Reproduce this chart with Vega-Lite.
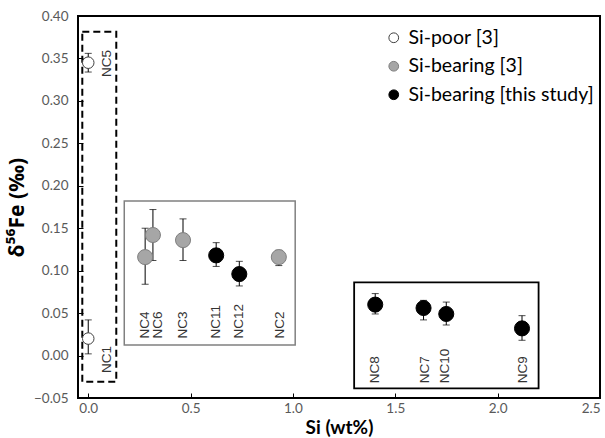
{
  "$schema": "https://vega.github.io/schema/vega-lite/v6.json",
  "width": 522,
  "height": 382,
  "autosize": "none",
  "padding": {"left": 78, "top": 16, "right": 5, "bottom": 40},
  "background": "white",
  "datasets": {
    "pts": [
      {"id": "NC5", "grp": "Si-poor [3]", "si": 0.0, "d": 0.345, "lo": 0.334, "hi": 0.356, "lx": 0.093, "ly": 0.328},
      {"id": "NC1", "grp": "Si-poor [3]", "si": 0.0, "d": 0.020, "lo": 0.002, "hi": 0.042, "lx": 0.093, "ly": -0.0205},
      {"id": "NC4", "grp": "Si-bearing [3]", "si": 0.278, "d": 0.116, "lo": 0.084, "hi": 0.150, "lx": 0.278, "ly": 0.020},
      {"id": "NC6", "grp": "Si-bearing [3]", "si": 0.316, "d": 0.142, "lo": 0.112, "hi": 0.172, "lx": 0.343, "ly": 0.020},
      {"id": "NC3", "grp": "Si-bearing [3]", "si": 0.463, "d": 0.136, "lo": 0.112, "hi": 0.161, "lx": 0.463, "ly": 0.020},
      {"id": "NC2", "grp": "Si-bearing [3]", "si": 0.931, "d": 0.116, "lo": 0.106, "hi": 0.124, "lx": 0.936, "ly": 0.020},
      {"id": "NC11", "grp": "Si-bearing [this study]", "si": 0.625, "d": 0.118, "lo": 0.105, "hi": 0.133, "lx": 0.625, "ly": 0.020},
      {"id": "NC12", "grp": "Si-bearing [this study]", "si": 0.738, "d": 0.096, "lo": 0.082, "hi": 0.111, "lx": 0.738, "ly": 0.020},
      {"id": "NC8", "grp": "Si-bearing [this study]", "si": 1.402, "d": 0.060, "lo": 0.049, "hi": 0.073, "lx": 1.402, "ly": -0.0327},
      {"id": "NC7", "grp": "Si-bearing [this study]", "si": 1.638, "d": 0.056, "lo": 0.042, "hi": 0.065, "lx": 1.643, "ly": -0.0327},
      {"id": "NC10", "grp": "Si-bearing [this study]", "si": 1.749, "d": 0.049, "lo": 0.036, "hi": 0.063, "lx": 1.744, "ly": -0.0327},
      {"id": "NC9", "grp": "Si-bearing [this study]", "si": 2.119, "d": 0.032, "lo": 0.018, "hi": 0.047, "lx": 2.125, "ly": -0.0327}
    ],
    "boxes": [
      {"box": "poor", "x1": -0.029, "x2": 0.137, "y1": -0.0308, "y2": 0.3815},
      {"box": "lit", "x1": 0.176, "x2": 1.011, "y1": 0.0124, "y2": 0.182},
      {"box": "this", "x1": 1.299, "x2": 2.2, "y1": -0.0386, "y2": 0.0863}
    ]
  },
  "config": {
    "view": {"stroke": "black", "strokeWidth": 2},
    "font": "Lato"
  },
  "layer": [
    {
      "data": {"name": "boxes"},
      "transform": [{"filter": "datum.box === 'poor'"}],
      "mark": {"type": "rect", "fill": "transparent", "stroke": "black", "strokeWidth": 2, "strokeDash": [7, 4]},
      "encoding": {
        "x": {"field": "x1", "type": "quantitative", "title": "Si (wt%)", "scale": {"domain": [-0.05, 2.5], "nice": false, "zero": false}},
        "x2": {"field": "x2"},
        "y": {"field": "y1", "type": "quantitative", "title": "δ⁵⁶Fe (‰)", "scale": {"domain": [-0.05, 0.4], "nice": false, "zero": false}},
        "y2": {"field": "y2"}
      }
    },
    {
      "data": {"name": "boxes"},
      "transform": [{"filter": "datum.box === 'lit'"}],
      "mark": {"type": "rect", "fill": "transparent", "stroke": "#808080", "strokeWidth": 1.5},
      "encoding": {
        "x": {"field": "x1", "type": "quantitative", "title": "Si (wt%)"},
        "x2": {"field": "x2"},
        "y": {"field": "y1", "type": "quantitative", "title": "δ⁵⁶Fe (‰)"},
        "y2": {"field": "y2"}
      }
    },
    {
      "data": {"name": "boxes"},
      "transform": [{"filter": "datum.box === 'this'"}],
      "mark": {"type": "rect", "fill": "transparent", "stroke": "black", "strokeWidth": 1.8},
      "encoding": {
        "x": {"field": "x1", "type": "quantitative", "title": "Si (wt%)"},
        "x2": {"field": "x2"},
        "y": {"field": "y1", "type": "quantitative", "title": "δ⁵⁶Fe (‰)"},
        "y2": {"field": "y2"}
      }
    },
    {
      "data": {"name": "pts"},
      "mark": {"type": "errorbar", "ticks": true, "size": 7, "thickness": 1, "color": "black"},
      "encoding": {
        "x": {"field": "si", "type": "quantitative", "title": "Si (wt%)"},
        "y": {"field": "lo", "type": "quantitative", "title": "δ⁵⁶Fe (‰)"},
        "y2": {"field": "hi"}
      }
    },
    {
      "data": {"name": "pts"},
      "mark": {"type": "circle", "opacity": 1, "strokeWidth": 1},
      "encoding": {
        "x": {
          "field": "si", "type": "quantitative", "title": "Si (wt%)",
          "axis": {
            "values": [0, 0.5, 1, 1.5, 2, 2.5], "format": ".1f", "grid": false, "domain": false,
            "tickSize": -5, "tickColor": "black", "labelFlush": true, "labelPadding": 8,
            "labelFontSize": 13.5, "labelColor": "#595959", "labelFont": "Lato",
            "titleFontSize": 19, "titleFontWeight": "bold", "titleColor": "black", "titlePadding": 4, "titleFont": "Lato"
          }
        },
        "y": {
          "field": "d", "type": "quantitative", "title": "δ⁵⁶Fe (‰)",
          "axis": {
            "values": [-0.05, 0, 0.05, 0.1, 0.15, 0.2, 0.25, 0.3, 0.35, 0.4], "format": ".2f", "grid": false, "domain": false,
            "tickSize": -5, "tickColor": "black", "labelPadding": 15,
            "labelFontSize": 13.5, "labelColor": "#595959", "labelFont": "Lato",
            "titleFontSize": 21, "titleFontWeight": "bold", "titleColor": "black", "titlePadding": 6, "titleFont": "Noto Sans"
          }
        },
        "fill": {
          "field": "grp", "type": "nominal",
          "scale": {"domain": ["Si-poor [3]", "Si-bearing [3]", "Si-bearing [this study]"], "range": ["white", "#a6a6a6", "black"]},
          "legend": {
            "orient": "none", "legendX": 306, "legendY": 12, "title": null, "padding": 0,
            "labelFontSize": 19.5, "labelFont": "Lato", "labelColor": "black", "labelOffset": 5, "labelLimit": 400,
            "symbolSize": 95, "symbolStrokeWidth": 1, "rowPadding": 7.5, "symbolType": "circle"
          }
        },
        "stroke": {
          "field": "grp", "type": "nominal",
          "scale": {"domain": ["Si-poor [3]", "Si-bearing [3]", "Si-bearing [this study]"], "range": ["#404040", "#7f7f7f", "black"]},
          "legend": {
            "orient": "none", "legendX": 306, "legendY": 12, "title": null, "padding": 0,
            "labelFontSize": 19.5, "labelFont": "Lato", "labelColor": "black", "labelOffset": 5, "labelLimit": 400,
            "symbolSize": 95, "symbolStrokeWidth": 1, "rowPadding": 7.5, "symbolType": "circle"
          }
        },
        "size": {"condition": {"test": "datum.grp === 'Si-poor [3]'", "value": 133}, "value": 227}
      }
    },
    {
      "data": {"name": "pts"},
      "mark": {"type": "text", "angle": 270, "align": "left", "baseline": "middle", "fontSize": 13.5, "font": "Liberation Sans", "fill": "#333333"},
      "encoding": {
        "x": {"field": "lx", "type": "quantitative", "title": "Si (wt%)"},
        "y": {"field": "ly", "type": "quantitative", "title": "δ⁵⁶Fe (‰)"},
        "text": {"field": "id"}
      }
    }
  ]
}
